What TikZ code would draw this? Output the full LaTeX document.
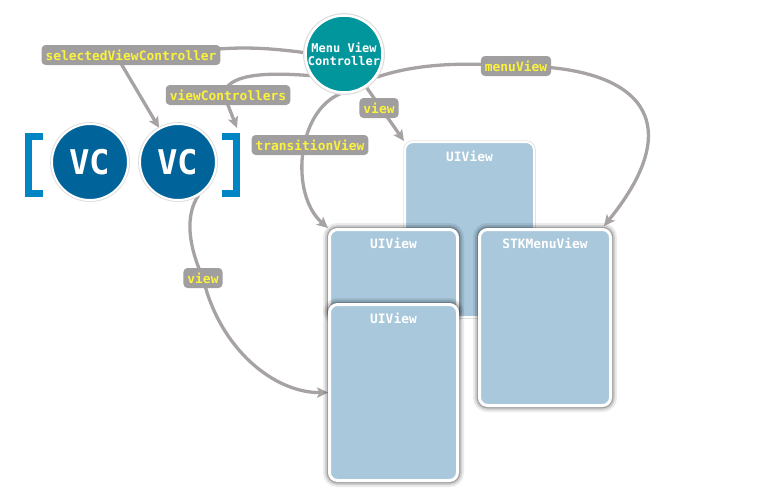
\documentclass[tikz,border=0pt]{standalone}
\usepackage{fontspec}
\setmonofont{DejaVu Sans Mono}
\usetikzlibrary{arrows.meta,backgrounds}
\definecolor{mvcteal}{RGB}{0,150,155}
\definecolor{vcblue}{RGB}{0,99,154}
\definecolor{brblue}{RGB}{0,133,196}
\definecolor{boxblue}{RGB}{169,200,220}
\definecolor{lblgray}{RGB}{160,158,158}
\definecolor{conngray}{RGB}{168,163,163}
\definecolor{lblyellow}{RGB}{250,242,60}
\begin{document}
\begin{tikzpicture}[x=1pt,y=-1pt,
  conn/.style={draw=conngray, line width=3.3pt, line join=round,
    -{Stealth[length=11pt,width=10.5pt,inset=2.5pt]}},
  lbl/.style={fill=lblgray, rounded corners=4pt, text=lblyellow,
    font=\ttfamily\bfseries\fontsize{12.9}{14}\selectfont,
    inner xsep=4pt, inner ysep=0pt, minimum height=20pt},
  mvcnode/.style={circle, fill=mvcteal, draw=white, line width=2.5pt,
    minimum size=77pt, inner sep=0pt, preaction={draw=black!13, line width=5pt},
    text=white, align=center,
    font=\ttfamily\bfseries\fontsize{12}{13.5}\selectfont},
  vcnode/.style={circle, fill=vcblue, draw=white, line width=2pt,
    minimum size=76pt, inner sep=0pt, preaction={draw=black!12, line width=4pt},
    text=white, font=\ttfamily\bfseries\fontsize{34}{34}\selectfont},
  vbox/.style={draw=white, line width=3pt, fill=boxblue, rounded corners=8pt, inner sep=0pt},
  shadowed/.style={preaction={draw=black, draw opacity=0.08, line width=13pt},
    preaction={draw=black, draw opacity=0.12, line width=9pt},
    preaction={draw=black, draw opacity=0.22, line width=5.5pt}},
  backbox/.style={draw=white, line width=2pt, fill=boxblue, rounded corners=8pt, inner sep=0pt,
    preaction={draw=black!12, line width=3.5pt}},
  boxtitle/.style={text=white, inner sep=0pt,
    font=\ttfamily\bfseries\fontsize{12.9}{14}\selectfont},
  brack/.style={draw=brblue, line width=7pt, line join=miter}
]
\useasboundingbox (0,0) rectangle (780,499);

% controllers
\node[mvcnode] (mvc) at (344,54) {Menu View\\Controller};
\node[vcnode] (vc1) at (90,162) {VC};
\node[vcnode] (vc2) at (178,162) {VC};
\draw[brack] (43,136.5) -- (28.5,136.5) -- (28.5,193.5) -- (43,193.5);
\draw[brack] (222,136.5) -- (236.5,136.5) -- (236.5,193.5) -- (222,193.5);
\coordinate (arrtop) at (237,128);

% views
\node[backbox, minimum width=129pt, minimum height=175pt] (back) at (469.5,229.5) {};
\node[boxtitle] (backT) at ([yshift=-15pt]back.north) {UIView};
\node[vbox, shadowed, minimum width=128pt, minimum height=89pt] (mid) at (393.5,274) {};
\node[boxtitle] (midT) at ([yshift=-15pt]mid.north) {UIView};
\node[vbox, shadowed, minimum width=131pt, minimum height=176pt] (stk) at (545,317.5) {};
\node[boxtitle] (stkT) at ([yshift=-15pt]stk.north) {STKMenuView};
\node[vbox, shadowed, minimum width=128pt, minimum height=176pt] (front) at (393.5,392.5) {};
\node[boxtitle] (frontT) at ([yshift=-15pt]front.north) {UIView};

% labels
\node[lbl] (sel) at (131,55) {selectedViewController};
\node[lbl] (vcl) at (228,95) {viewControllers};
\node[lbl] (tvl) at (310,145) {transitionView};
\node[lbl] (vwl) at (379,108) {view};
\node[lbl] (mvl) at (516,66) {menuView};
\node[lbl] (vbl) at (203,278) {view};

% connectors
\begin{scope}[on background layer]
\draw[conn] (mvc.178) .. controls (270,48) and (245,47) .. ([xshift=-2pt,yshift=6pt]sel.east)
  -- ([xshift=-15pt]sel.center) -- (vc2.119);
\draw[conn] (mvc.213) .. controls (265,72) and (226,74) .. ([xshift=-4pt]vcl.center) -- (arrtop);
\draw[conn] (mvc.265) .. controls (296,112) and (290,195) .. (mid.north west);
\draw[conn] (mvc.304) -- (back.north west);
\draw[conn] (mvc.324) .. controls (415,64) and (460,62) .. (mvl.center)
  .. controls (640,66) and (690,120) .. ([xshift=-8pt,yshift=2pt]stk.north east);
\draw[conn] (vc2.302) .. controls (185,215) and (188,245) .. (vbl.center)
  .. controls (220,350) and (275,393) .. (front.west);
\end{scope}
\end{tikzpicture}
\end{document}
